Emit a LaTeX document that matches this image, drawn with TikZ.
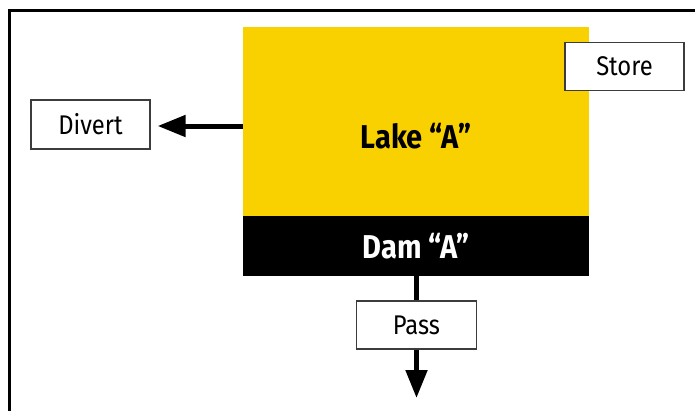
\documentclass[tikz,border=0pt]{standalone}
\usepackage{fontspec}
\setmainfont{Fira Sans}[FakeStretch=0.88]
\usetikzlibrary{arrows.meta}
\definecolor{lakeyellow}{RGB}{250,209,0}
\definecolor{boxline}{RGB}{60,60,60}
\tikzset{
  labelbox/.style={draw=boxline, line width=1.3pt, fill=white, inner sep=0pt,
    font=\fontsize{27}{31}\selectfont},
  flow/.style={line width=5pt, -{Triangle[length=28pt,width=21pt]}},
  feed/.style={line width=5pt}
}
\begin{document}
\begin{tikzpicture}[x=1pt, y=-1pt]
  \useasboundingbox (0,0) rectangle (695,410);
  \clip (0,0) rectangle (695,410);
  % outer frame, open towards right and bottom
  \draw[line width=3pt] (9.5,420) -- (9.5,10.5) -- (705,10.5);
  % reservoir and dam
  \node[fill=lakeyellow, inner sep=0pt, minimum width=346pt, minimum height=189pt,
        anchor=north west] (lake) at (243,27) {};
  \node[fill=black, inner sep=0pt, minimum width=346pt, minimum height=60pt,
        anchor=north west, text=white, font=\fontsize{33}{37}\bfseries] (dam) at (243,216) {Dam “A”};
  \node[font=\fontsize{33}{37}\bfseries] (laketext) at (416,136) {Lake “A”};
  % outlets
  \node[labelbox, minimum width=119pt, minimum height=49pt] (divert) at (90.5,124.5) {Divert};
  \node[labelbox, minimum width=119pt, minimum height=48.5pt] (store) at (624.5,66.5) {Store};
  \node[labelbox, minimum width=120pt, minimum height=48pt] (pass) at (416.5,325) {Pass};
  \coordinate (outlet) at (416.5,398);
  % connectors
  \draw[flow, shorten >=7pt] (lake.west |- 0,126) -- (divert.east |- 0,126);
  \draw[feed] (dam.south -| pass.north) -- (pass.north);
  \draw[flow] (pass.south) -- (outlet);
\end{tikzpicture}
\end{document}
